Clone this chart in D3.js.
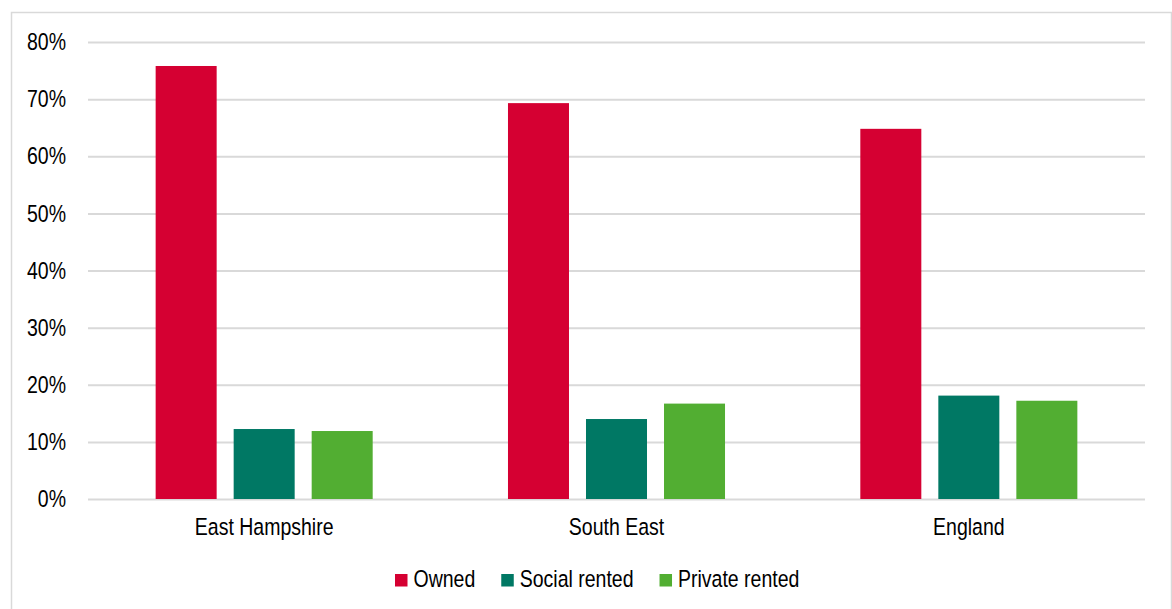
<!DOCTYPE html>
<html>
<head>
<meta charset="utf-8">
<script src="https://cdn.jsdelivr.net/npm/d3@7"></script>
<style>
  html, body { margin: 0; padding: 0; background: #fff; }
  svg { display: block; }
  text { font-family: "Liberation Sans", Arial, sans-serif; fill: #000; }
</style>
</head>
<body>
<svg id="chart" width="1172" height="609"></svg>
<script>
// Housing tenure shares by area
const categories = ["East Hampshire", "South East", "England"];
const seriesNames = ["Owned", "Social rented", "Private rented"];
const owned = [0.758, 0.693, 0.648];
const socialRented = [0.1225, 0.140, 0.181];
const privateRented = [0.119, 0.167, 0.172];
const tickValues = [0, 0.1, 0.2, 0.3, 0.4, 0.5, 0.6, 0.7, 0.8];
const colors = ["#d50032", "#007864", "#52ae32"];

const seriesValues = [owned, socialRented, privateRented];

const svg = d3.select("#chart");
const W = 1172, H = 609;
const plot = { left: 88, right: 1145, top: 42, bottom: 499 };

// Narrow-looking type: tall glyphs squeezed horizontally
const fontSize = 23.5, squeeze = 0.83;

// Outer chart frame
svg.append("rect")
  .attr("x", 11.5).attr("y", 12.5)
  .attr("width", 1160).attr("height", 610)
  .attr("fill", "none").attr("stroke", "#d9d9d9").attr("stroke-width", 1.5);

const y = d3.scaleLinear().domain([0, 0.8]).range([plot.bottom, plot.top]);

const x0 = d3.scaleBand().domain(categories)
  .range([plot.left, plot.right])
  .paddingInner(0.384).paddingOuter(0.192);

const x1 = d3.scaleBand().domain(seriesNames)
  .range([0, x0.bandwidth()])
  .paddingInner(0.218).paddingOuter(0);

// Gridlines
const yAxis = d3.axisLeft(y).tickValues(tickValues)
  .tickSize(-(plot.right - plot.left)).tickFormat(d3.format(".0%"));
const gy = svg.append("g").attr("transform", `translate(${plot.left},0)`).call(yAxis);
gy.select(".domain").remove();
gy.selectAll(".tick line").attr("stroke", "#d9d9d9").attr("stroke-width", 2);
gy.selectAll(".tick text").remove();

// Y tick labels
svg.append("g").selectAll("text").data(tickValues).join("text")
  .attr("transform", d => `translate(66,${y(d)}) scale(${squeeze},1)`)
  .attr("text-anchor", "end")
  .attr("dy", "0.35em")
  .style("font-size", fontSize + "px")
  .text(d => d3.format(".0%")(d));

// Bars
const groups = svg.append("g").selectAll("g").data(categories).join("g")
  .attr("transform", d => `translate(${x0(d)},0)`);

groups.selectAll("rect")
  .data((c, ci) => seriesNames.map((s, si) => ({ s, si, v: seriesValues[si][ci] })))
  .join("rect")
  .attr("x", d => x1(d.s))
  .attr("width", x1.bandwidth())
  .attr("y", d => y(d.v))
  .attr("height", d => y(0) - y(d.v))
  .attr("fill", d => colors[d.si]);

// Category labels
svg.append("g").selectAll("text").data(categories).join("text")
  .attr("transform", d => `translate(${x0(d) + x0.bandwidth() / 2},535) scale(${squeeze},1)`)
  .attr("text-anchor", "middle")
  .style("font-size", fontSize + "px")
  .text(d => d);

// Legend
const legend = svg.append("g");
let lx = 395;
seriesNames.forEach((name, i) => {
  legend.append("rect")
    .attr("x", lx).attr("y", 574)
    .attr("width", 12.5).attr("height", 12.5)
    .attr("fill", colors[i]);
  const t = legend.append("text")
    .attr("transform", `translate(${lx + 18.5},587) scale(${squeeze},1)`)
    .style("font-size", fontSize + "px")
    .text(name);
  const w = t.node().getComputedTextLength() * squeeze;
  lx += 18.5 + w + 26;
});
</script>
</body>
</html>
